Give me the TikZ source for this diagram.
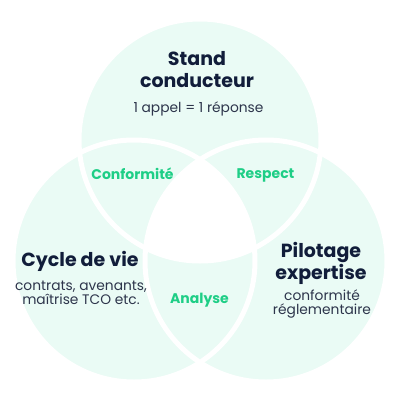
\documentclass[tikz,border=0pt]{standalone}
\usepackage{fontspec}
\setmainfont{Poppins}
\usetikzlibrary{positioning}
\definecolor{menthe}{RGB}{234,251,245}
\definecolor{marine}{RGB}{17,29,58}
\definecolor{vert}{RGB}{30,206,134}
\definecolor{ardoise}{RGB}{45,53,75}

\tikzstyle{titre} = [font=\fontsize{19}{22}\selectfont\bfseries, text=marine, align=center, inner sep=0pt]
\tikzstyle{sous} = [font=\fontsize{13.8}{14.5}\selectfont, text=ardoise, align=center, inner sep=0pt]
\tikzstyle{lien} = [font=\fontsize{14}{15}\selectfont\bfseries, text=vert, inner sep=0pt]
\tikzstyle{bulle} = [radius=121pt]
\tikzstyle{bord} = [white, line width=5pt, radius=121pt]

\begin{document}
\begin{tikzpicture}[x=1pt,y=-1pt]
\useasboundingbox (0,0) rectangle (400,400);
\coordinate (h) at (200,140);
\coordinate (g) at (134,261);
\coordinate (d) at (266,261);
% disques
\fill[menthe,bulle] (h) circle;
\fill[menthe,bulle] (g) circle;
\fill[menthe,bulle] (d) circle;
% centre blanc
\begin{scope}
	\clip[bulle] (h) circle;
	\clip[bulle] (g) circle;
	\fill[white,bulle] (d) circle;
\end{scope}
\draw[bord] (h) circle;
\draw[bord] (g) circle;
\draw[bord] (d) circle;

\node [titre] (stand) at (197,70) {Stand\\conducteur};
\node [sous] (appel) at (198.5,108.5) {1 appel = 1 réponse};
\node [titre] (cycle) at (80,261) {Cycle de vie};
\node [sous] (contrats) at (81,293) {contrats, avenants,\\maîtrise TCO etc.};
\node [titre] (pilot) at (321,263.5) {Pilotage\\expertise};
\node [sous] (regl) at (322,304) {conformité\\réglementaire};
\node [lien] (conf) at (132.5,173.5) {Conformité};
\node [lien] (resp) at (265.5,175) {Respect};
\node [lien] (ana) at (199.5,300.5) {Analyse};
\end{tikzpicture}
\end{document}
